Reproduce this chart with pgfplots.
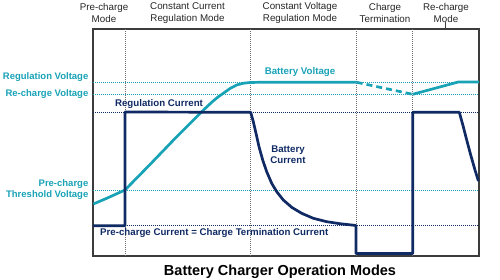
\documentclass[border=0pt]{standalone}
\usepackage{pgfplots}
\pgfplotsset{compat=1.18}
\usepackage{fontspec}
\setmainfont{Liberation Sans}
\definecolor{cy}{RGB}{24,162,182}
\definecolor{nv}{RGB}{16,42,100}
\definecolor{bx}{RGB}{60,60,60}
\definecolor{gl}{RGB}{110,110,110}
\begin{document}
\begin{tikzpicture}[x=1pt,y=1pt]
\begin{axis}[
  at={(93pt,24pt)}, anchor=south west,
  scale only axis, width=386pt, height=227pt,
  xmin=93, xmax=479, ymin=29, ymax=256, y dir=reverse,
  axis line style={bx, line width=1.2pt},
  xtick=\empty, ytick=\empty, clip=false,
  every axis plot/.append style={mark=none},
]
% reference lines
\addplot[cy, line width=0.9pt, dash pattern=on 1pt off 1pt] coordinates {(93,82.3) (479,82.3)};
\addplot[cy, line width=0.9pt, dash pattern=on 1pt off 1pt] coordinates {(93,94.3) (479,94.3)};
\addplot[cy, line width=0.9pt, dash pattern=on 1pt off 1pt] coordinates {(93,190) (479,190)};
\addplot[nv, line width=0.9pt, dash pattern=on 1pt off 1pt] coordinates {(93,112) (479,112)};
\addplot[nv, line width=0.9pt, dash pattern=on 1pt off 1pt] coordinates {(93,225.7) (479,225.7)};
\addplot[gl, line width=0.9pt, dash pattern=on 1pt off 1pt] coordinates {(125,29) (125,256)};
\addplot[gl, line width=0.9pt, dash pattern=on 1pt off 1pt] coordinates {(250.5,29) (250.5,256)};
\addplot[gl, line width=0.9pt, dash pattern=on 1pt off 1pt] coordinates {(356.7,29) (356.7,256)};
\addplot[gl, line width=0.9pt, dash pattern=on 1pt off 1pt] coordinates {(412.7,29) (412.7,256)};
% battery voltage
\addplot[cy, line width=2.7pt, smooth, tension=0.3] coordinates {
(93.3,204) (106.7,198.3) (125,190)};
\addplot[cy, line width=2.7pt, line join=round] coordinates {
(125,190) (150,164.5) (175,138.5) (201.7,111.7) (212,102) (218,97) (223.3,93.3) (230,88.5) (236.7,85) (243,83.3) (250,82.5) (260,82.3) (356.7,82.3)};
\addplot[cy, line width=2.7pt, dash pattern=on 6pt off 4pt] coordinates {(356.7,82.3) (412.7,94.3)};
\addplot[cy, line width=2.7pt] coordinates {(412.7,94.3) (458.3,82) (479,82)};
% battery current
\addplot[nv, line width=2.7pt, line join=round] coordinates {
(93,225.7) (125,225.7) (125,112) (250.7,112.3) (253.3,121.7) (256,133.3) (259,146.7) (262.7,160) (266.7,171.7) (271.7,183.3) (276.7,191.7) (283.3,200) (291.7,207.3) (301.7,213.3) (313.3,218.3) (326.7,221.7) (340,223.7) (356,225.5) (356,253.5) (412.7,253.5) (412.7,112.3) (459.3,112.3) (463.3,126.7) (466.7,140) (470.7,155) (475,170) (478.4,181)};
% labels
\node[anchor=east, inner sep=0pt, cy, font=\fontsize{9.5}{11.2}\selectfont\bfseries] at (axis cs:88.5,77.3) {Regulation Voltage};
\node[anchor=east, inner sep=0pt, cy, font=\fontsize{9.5}{11.2}\selectfont\bfseries] at (axis cs:88.5,94.3) {Re-charge Voltage};
\node[anchor=east, inner sep=0pt, cy, align=right, font=\fontsize{9.5}{11.2}\selectfont\bfseries] at (axis cs:88.5,189.5) {Pre-charge\\Threshold Voltage};
\node[nv, font=\fontsize{9.7}{11.2}\selectfont\bfseries] at (axis cs:159,104) {Regulation Current};
\node[cy, font=\fontsize{9.7}{11.2}\selectfont\bfseries] at (axis cs:300,72.3) {Battery Voltage};
\node[nv, align=center, font=\fontsize{9.7}{11.2}\selectfont\bfseries] at (axis cs:288,154.5) {Battery\\Current};
\node[nv, anchor=west, inner sep=0pt, font=\fontsize{9.7}{11.2}\selectfont\bfseries] at (axis cs:100,233) {Pre-charge Current = Charge Termination Current};
% top labels
\node[align=center, text=black!85, font=\fontsize{9.8}{12}\selectfont] at (axis cs:104,13) {Pre-charge\\Mode};
\node[align=center, text=black!85, font=\fontsize{9.8}{12}\selectfont] at (axis cs:187.5,13) {Constant Current\\Regulation Mode};
\node[align=center, text=black!85, font=\fontsize{9.8}{12}\selectfont] at (axis cs:300,13) {Constant Voltage\\Regulation Mode};
\node[align=center, text=black!85, font=\fontsize{9.8}{12}\selectfont] at (axis cs:385,13) {Charge\\Termination};
\node[align=center, text=black!85, font=\fontsize{9.8}{12}\selectfont] at (axis cs:446,13) {Re-charge\\Mode};
\draw[bx, line width=1pt] (axis cs:445,22.5) -- (axis cs:445,29);
% title
\node[font=\fontsize{14.5}{17}\selectfont\bfseries] at (axis cs:280,271.5) {Battery Charger Operation Modes};
\end{axis}
\pgfresetboundingbox
\useasboundingbox (0,0) rectangle (500,280);
\end{tikzpicture}
\end{document}
